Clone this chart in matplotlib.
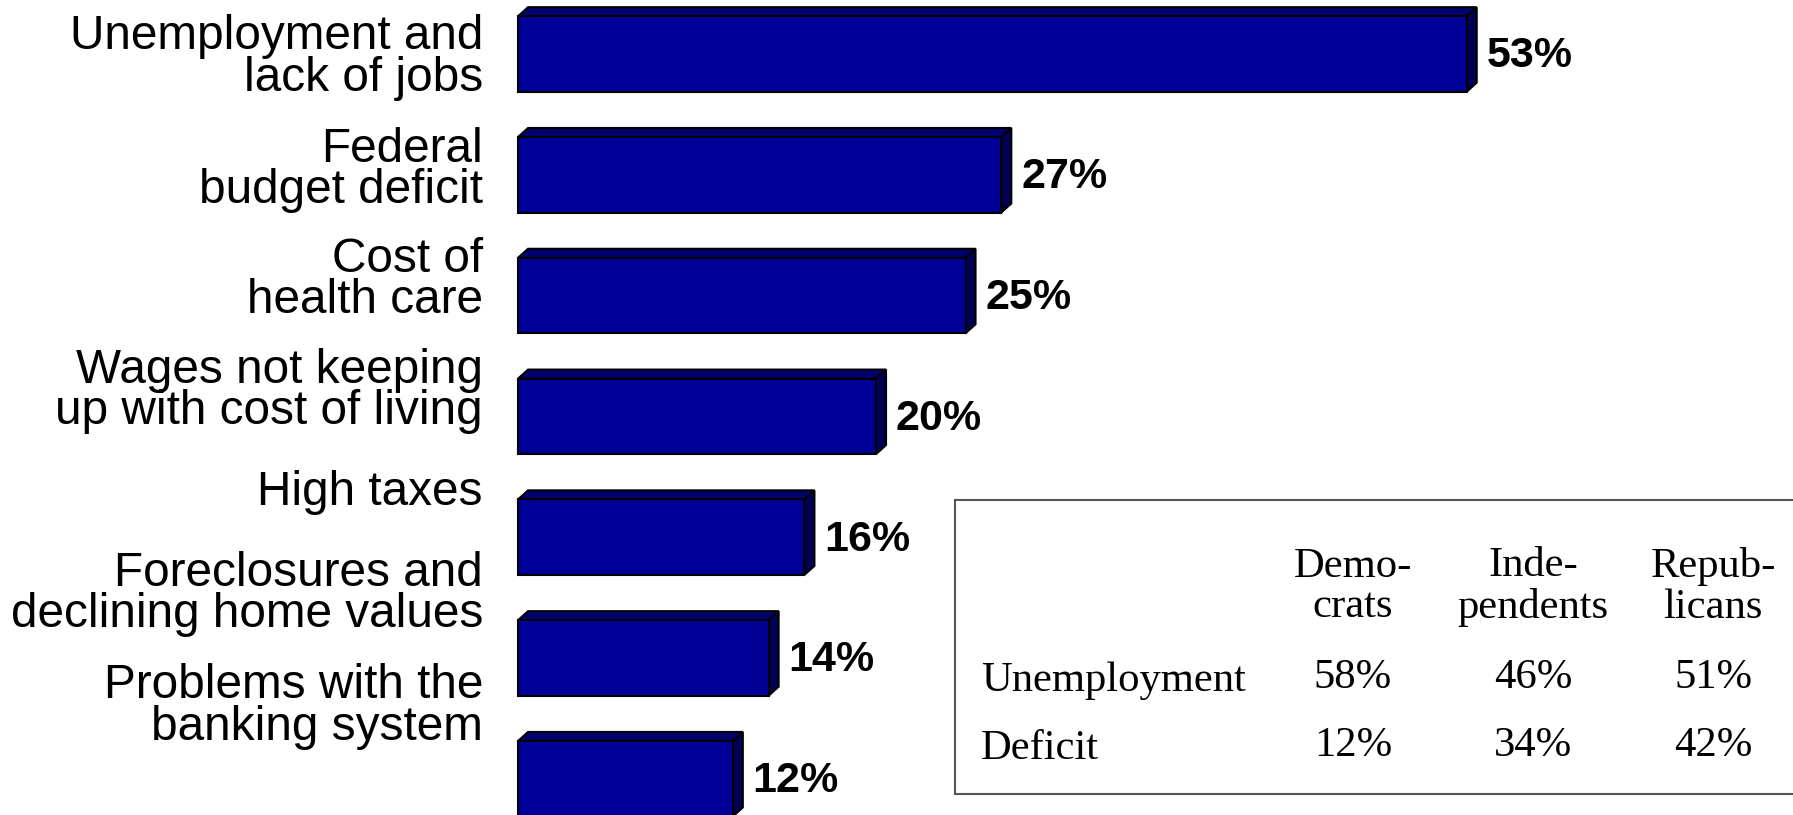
import matplotlib
matplotlib.use("Agg")
import matplotlib.pyplot as plt
from matplotlib.patches import Rectangle

# Top economic worries, percent naming each
issues = [
    "Unemployment and\nlack of jobs",
    "Federal\nbudget deficit",
    "Cost of\nhealth care",
    "Wages not keeping\nup with cost of living",
    "High taxes",
    "Foreclosures and\ndeclining home values",
    "Problems with the\nbanking system",
]
shares = [53, 27, 25, 20, 16, 14, 12]

# Breakdown by party for the two leading issues
parties = ["Demo-\ncrats", "Inde-\npendents", "Repub-\nlicans"]
table_rows = ["Unemployment", "Deficit"]
unemployment_by_party = [58, 46, 51]
deficit_by_party = [12, 34, 42]

front_color = "#000099"
top_color = "#00006e"
side_color = "#000055"

fig = plt.figure(figsize=(17.93, 8.15), dpi=100)
ax = fig.add_axes([0, 0, 1, 1])
ax.set_xlim(-28.94, 71.23)
ax.set_ylim(6.30, -0.447)
ax.axis("off")

bar_h = 0.625
dx, dy = 0.56, 0.075
ypos = list(range(len(shares)))

ax.barh(ypos, shares, height=bar_h, color=front_color,
        edgecolor="black", linewidth=1.5, zorder=3)

for y, v in zip(ypos, shares):
    yt = y - bar_h / 2
    yb = y + bar_h / 2
    ax.fill([0, v, v + dx, dx], [yt, yt, yt - dy, yt - dy],
            facecolor=top_color, edgecolor="black", linewidth=1.5, zorder=2)
    ax.fill([v, v + dx, v + dx, v], [yt, yt - dy, yb - dy, yb],
            facecolor=side_color, edgecolor="black", linewidth=1.5, zorder=2)
    ax.text(v + dx + 0.55, y + 0.02, f"{v}%", ha="left", va="center",
            fontsize=31, fontweight="bold", family="Liberation Sans")

# category labels sit a little above their bars further down
label_y = [0.03, 0.96, 1.87, 2.79, 3.63, 4.47, 5.40]
for ly, name in zip(label_y, issues):
    ax.text(-1.96, ly, name, ha="right", va="center", fontsize=34.4,
            family="Liberation Sans", linespacing=0.9)

# party table in its own box
fig.patches.append(Rectangle((0.5326, 0.0258), 0.48, 0.3607,
                             transform=fig.transFigure, facecolor="white",
                             edgecolor="#555555", linewidth=1.5))

col_x = [0.7546, 0.855, 0.9554]
row_y = [0.1705, 0.0871]
serif = "Liberation Serif"
for cx, p in zip(col_x, parties):
    fig.text(cx, 0.2800, p, ha="center", va="center", fontsize=30.7,
             family=serif, linespacing=1.08)
for ry, row, vals in zip(row_y, table_rows,
                         [unemployment_by_party, deficit_by_party]):
    fig.text(0.547, ry - 0.006, row, ha="left", va="center", fontsize=30.7,
             family=serif)
    for cx, v in zip(col_x, vals):
        fig.text(cx, ry - 0.002, f"{v}%", ha="center", va="center",
                 fontsize=30.7, family=serif)

fig.savefig("out.png", dpi=100)
